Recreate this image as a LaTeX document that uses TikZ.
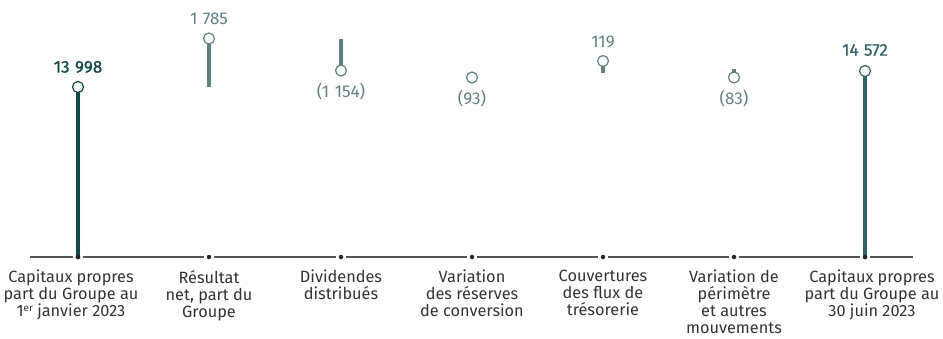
\documentclass[tikz,border=0pt]{standalone}
\usepackage{fontspec}
\setmainfont{Fira Sans}
\newfontfamily\medfont[FakeBold=0.8]{Fira Sans}
\definecolor{darkA}{HTML}{0B4D48}
\definecolor{darkB}{HTML}{2F6466}
\definecolor{greyT}{HTML}{5E8181}
\definecolor{axisC}{HTML}{555555}
\definecolor{txtC}{HTML}{333333}
\newcommand{\nsp}{\hspace{0.32em}}
\tikzset{
  x=1pt, y=-1pt,
  bar/.style={line width=4pt},
  pin/.style={circle, draw=#1, fill=white, line width=1.2pt, minimum size=11pt, inner sep=0pt},
  val/.style={font=\fontsize{17}{18}\selectfont, text=#1, inner sep=0pt},
  cat/.style={font=\fontsize{16.3}{17}\selectfont, text=txtC, align=center, anchor=north, inner sep=0pt},
  tick/.style={circle, fill=black!85, minimum size=4.5pt, inner sep=0pt},
}
\begin{document}
\begin{tikzpicture}
\useasboundingbox (0,0) rectangle (943,338);
% axis
\coordinate (L) at (30,257);
\coordinate (R) at (913,257);
\draw[axisC, line width=1.1pt] (L) -- (R);
\foreach \i/\x in {1/78,2/209,3/341,4/472,5/603,6/734,7/865}{
  \fill[white] (\x-5,254) rectangle (\x+5,260);
  \node[tick] (t\i) at (\x,257) {};
}
% bars
\coordinate (b1top) at (78,92);
\draw[bar, darkA] (b1top) -- (t1.center);
\node[pin=darkA] (c1) at (78,87) {};
\node[val=darkA, font=\fontsize{17}{18}\medfont] (v1) at (78,67) {13\nsp998};

\coordinate (b2a) at (209,44); \coordinate (b2b) at (209,87);
\draw[bar, greyT] (b2a) -- (b2b);
\node[pin=greyT] (c2) at (209,38.5) {};
\node[val=greyT] (v2) at (209,19) {1\nsp785};

\coordinate (b3a) at (341,39); \coordinate (b3b) at (341,66);
\draw[bar, greyT] (b3a) -- (b3b);
\node[pin=greyT] (c3) at (341,70.5) {};
\node[val=greyT] (v3) at (341,92) {(1\nsp154)};

\node[pin=greyT] (c4) at (472,77.5) {};
\node[val=greyT] (v4) at (472,99) {(93)};

\coordinate (b5a) at (603,66); \coordinate (b5b) at (603,72.7);
\draw[bar, greyT] (b5a) -- (b5b);
\node[pin=greyT] (c5) at (603,61) {};
\node[val=greyT] (v5) at (603,42) {119};

\coordinate (b6a) at (734,69); \coordinate (b6b) at (734,74);
\draw[bar, greyT] (b6a) -- (b6b);
\node[pin=greyT] (c6) at (734,77.5) {};
\node[val=greyT] (v6) at (734,99) {(83)};

\coordinate (b7top) at (865,76);
\draw[bar, darkB] (b7top) -- (t7.center);
\node[pin=darkB] (c7) at (865,71) {};
\node[val=darkB, font=\fontsize{17}{18}\medfont] (v7) at (865,50) {14\nsp572};

\node[tick] at (t1) {};
\node[tick] at (t7) {};

% categories
\node[cat] (k1) at (71,270) {Capitaux propres\\part du Groupe au\\1{\fontsize{10}{10}\selectfont\raisebox{5pt}{er}} janvier 2023};
\node[cat] (k2) at (209,270) {Résultat\\net, part du\\Groupe};
\node[cat] (k3) at (341,270) {Dividendes\\distribués};
\node[cat] (k4) at (472,270) {Variation\\des réserves\\de conversion};
\node[cat] (k5) at (603,270) {Couvertures\\des flux de\\trésorerie};
\node[cat] (k6) at (734,270) {Variation de\\périmètre\\et autres\\mouvements};
\node[cat] (k7) at (872,270) {Capitaux propres\\part du Groupe au\\30 juin 2023};
\end{tikzpicture}
\end{document}
